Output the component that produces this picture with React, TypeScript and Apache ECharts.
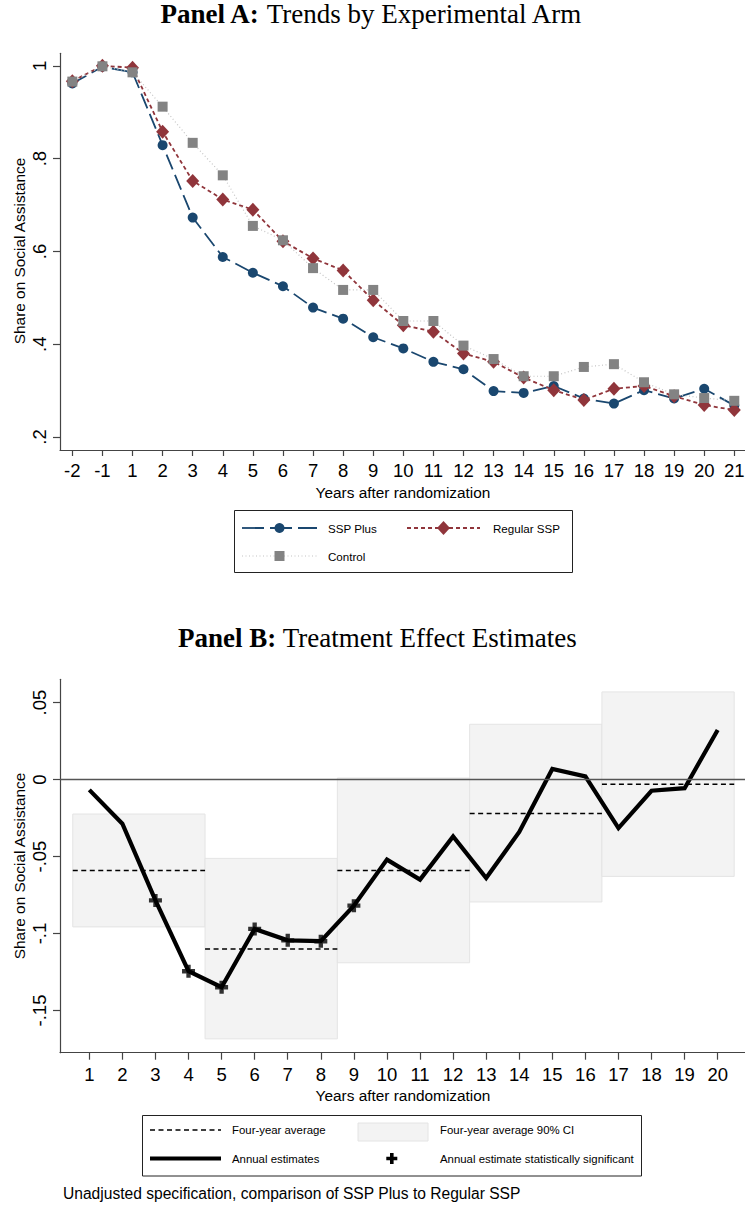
import React, { useEffect, useRef } from 'react';
import * as echarts from 'echarts';

// ---------- Panel A data ----------
const xLabelsA = ['-2', '-1', '1', '2', '3', '4', '5', '6', '7', '8', '9', '10', '11', '12', '13', '14', '15', '16', '17', '18', '19', '20', '21'];
const sspPlus = [0.962, 0.998, 0.986, 0.829, 0.673, 0.588, 0.554, 0.525, 0.479, 0.455, 0.415, 0.391, 0.362, 0.346, 0.299, 0.295, 0.310, 0.283, 0.272, 0.301, 0.283, 0.304, 0.268];
const regularSSP = [0.967, 1.0, 0.996, 0.858, 0.752, 0.712, 0.690, 0.622, 0.585, 0.559, 0.495, 0.441, 0.427, 0.380, 0.362, 0.328, 0.301, 0.280, 0.304, 0.310, 0.288, 0.269, 0.258];
const control = [0.966, 0.999, 0.986, 0.912, 0.834, 0.764, 0.655, 0.624, 0.564, 0.517, 0.517, 0.450, 0.450, 0.397, 0.368, 0.331, 0.331, 0.351, 0.357, 0.318, 0.292, 0.284, 0.278];
const yTicksA = [0.2, 0.4, 0.6, 0.8, 1];
const yTickLabelsA = ['.2', '.4', '.6', '.8', '1'];

// ---------- Panel B data ----------
const years = [1, 2, 3, 4, 5, 6, 7, 8, 9, 10, 11, 12, 13, 14, 15, 16, 17, 18, 19, 20];
const annual = [-0.0067, -0.0287, -0.0785, -0.1245, -0.1349, -0.097, -0.1044, -0.105, -0.0819, -0.052, -0.065, -0.037, -0.064, -0.034, 0.0069, 0.002, -0.0315, -0.0073, -0.0056, 0.0322];
const significantYears = [3, 4, 5, 6, 7, 8, 9];
const groupStart = [1, 5, 9, 13, 17];
const groupEnd = [4, 8, 12, 16, 20];
const groupMean = [-0.059, -0.110, -0.059, -0.022, -0.003];
const ciLow = [-0.0957, -0.1684, -0.119, -0.0795, -0.0629];
const ciHigh = [-0.0224, -0.0512, 0.001, 0.0359, 0.0569];
const yTicksB = [0.05, 0, -0.05, -0.1, -0.15];
const yTickLabelsB = ['.05', '0', '-.05', '-.1', '-.15'];

const SANS = '"Liberation Sans", Arial, sans-serif';
const SERIF = '"Liberation Serif", "Times New Roman", serif';
const NAVY = '#1a476f';
const MAROON = '#90353b';
const GRAY = '#838383';
const AXIS = '#444';

const PLUS = 'path://M4,0H8V4H12V8H8V12H4V8H0V4H4Z';

export default function App() {
  const ref = useRef<HTMLDivElement>(null);
  useEffect(() => {
    document.body.style.margin = '0';
    const chart = echarts.init(ref.current!, null, { renderer: 'svg' });

    const axisLabelBase = { color: '#000', fontFamily: SANS, fontSize: 18.5 };

    const option: any = {
      animation: false,
      backgroundColor: '#fff',
      grid: [
        { left: 60, top: 53.3, width: 685, height: 396.7, containLabel: false, outerBoundsMode: 'none' },
        { left: 60, top: 679.3, width: 685, height: 373.4, containLabel: false, outerBoundsMode: 'none' },
      ],
      xAxis: [
        {
          type: 'value', gridIndex: 0, min: -0.41, max: 22.356,
          axisLine: { show: true, onZero: false, lineStyle: { color: AXIS, width: 1.2 } },
          axisTick: { show: true, length: 6, customValues: xLabelsA.map((_, i) => i), lineStyle: { color: AXIS, width: 1.2 } },
          axisLabel: { ...axisLabelBase, margin: 11, customValues: xLabelsA.map((_, i) => i), formatter: (v: number) => xLabelsA[Math.round(v)] ?? '' },
          splitLine: { show: false },
        },
        {
          type: 'value', gridIndex: 1, min: 0.114, max: 20.826,
          axisLine: { show: true, onZero: false, lineStyle: { color: AXIS, width: 1.2 } },
          axisTick: { show: true, length: 7, customValues: years, lineStyle: { color: AXIS, width: 1.2 } },
          axisLabel: { ...axisLabelBase, margin: 12, customValues: years, formatter: (v: number) => String(v) },
          splitLine: { show: false },
        },
      ],
      yAxis: [
        {
          type: 'value', gridIndex: 0, min: 0.172, max: 1.027,
          axisLine: { show: true, onZero: false, lineStyle: { color: AXIS, width: 1.2 } },
          axisTick: { show: true, length: 7, customValues: yTicksA, lineStyle: { color: AXIS, width: 1.2 } },
          axisLabel: {
            ...axisLabelBase, margin: 11, rotate: 90, customValues: yTicksA,
            formatter: (v: number) => { const i = yTicksA.findIndex(t => Math.abs(t - v) < 1e-6); return i >= 0 ? yTickLabelsA[i] : ''; },
          },
          splitLine: { show: false },
        },
        {
          type: 'value', gridIndex: 1, min: -0.1774, max: 0.0651,
          axisLine: { show: true, onZero: false, lineStyle: { color: AXIS, width: 1.2 } },
          axisTick: { show: true, length: 7, customValues: yTicksB, lineStyle: { color: AXIS, width: 1.2 } },
          axisLabel: {
            ...axisLabelBase, margin: 11, rotate: 90, customValues: yTicksB,
            formatter: (v: number) => { const i = yTicksB.findIndex(t => Math.abs(t - v) < 1e-6); return i >= 0 ? yTickLabelsB[i] : ''; },
          },
          splitLine: { show: false },
        },
      ],
      series: [
        // Panel A
        {
          name: 'SSP Plus', type: 'line', xAxisIndex: 0, yAxisIndex: 0,
          data: sspPlus.map((v, i) => [i, v]),
          symbol: 'circle', symbolSize: 10,
          itemStyle: { color: NAVY },
          lineStyle: { color: NAVY, width: 1.8, type: [16, 6] },
          z: 3,
        },
        {
          name: 'Regular SSP', type: 'line', xAxisIndex: 0, yAxisIndex: 0,
          data: regularSSP.map((v, i) => [i, v]),
          symbol: 'diamond', symbolSize: [13, 14],
          itemStyle: { color: MAROON },
          lineStyle: { color: MAROON, width: 1.8, type: [4, 3] },
          z: 4,
        },
        {
          name: 'Control', type: 'line', xAxisIndex: 0, yAxisIndex: 0,
          data: control.map((v, i) => [i, v]),
          symbol: 'rect', symbolSize: 10,
          itemStyle: { color: GRAY },
          lineStyle: { color: '#c4c4c4', width: 1.2, type: [1, 2.5] },
          z: 5,
        },
        // Panel B: CI boxes
        {
          type: 'custom', xAxisIndex: 1, yAxisIndex: 1, z: 1,
          data: groupStart.map((s, i) => [s, groupEnd[i], ciLow[i], ciHigh[i]]),
          encode: { x: [0, 1], y: [2, 3] },
          renderItem: (params: any, api: any) => {
            const p0 = api.coord([api.value(0) - 0.5, api.value(3)]);
            const p1 = api.coord([api.value(1) + 0.5, api.value(2)]);
            return {
              type: 'rect',
              shape: { x: p0[0], y: p0[1], width: p1[0] - p0[0], height: p1[1] - p0[1] },
              style: { fill: '#f3f3f3', stroke: '#e4e4e4', lineWidth: 1 },
            };
          },
        },
        // Zero line
        {
          type: 'line', xAxisIndex: 1, yAxisIndex: 1, data: [], z: 2,
          markLine: {
            silent: true, symbol: 'none', label: { show: false },
            lineStyle: { color: '#555', width: 1.3, type: 'solid' },
            data: [{ yAxis: 0 }],
          },
        },
        // Four-year averages
        {
          type: 'custom', xAxisIndex: 1, yAxisIndex: 1, z: 3,
          data: groupStart.map((s, i) => [s, groupEnd[i], groupMean[i]]),
          encode: { x: [0, 1], y: 2 },
          renderItem: (params: any, api: any) => {
            const p0 = api.coord([api.value(0) - 0.5, api.value(2)]);
            const p1 = api.coord([api.value(1) + 0.5, api.value(2)]);
            return {
              type: 'line',
              shape: { x1: p0[0], y1: p0[1], x2: p1[0], y2: p1[1] },
              style: { stroke: '#000', lineWidth: 1.5, lineDash: [5, 3.5] },
            };
          },
        },
        // Annual estimates
        {
          type: 'line', xAxisIndex: 1, yAxisIndex: 1, z: 4,
          data: years.map((y, i) => [y, annual[i]]),
          symbol: 'none',
          lineStyle: { color: '#000', width: 4.2, join: 'miter' },
        },
        // Significant markers
        {
          type: 'scatter', xAxisIndex: 1, yAxisIndex: 1, z: 5,
          data: significantYears.map(y => [y, annual[years.indexOf(y)]]),
          symbol: PLUS, symbolSize: 13,
          itemStyle: { color: '#000' },
        },
      ],
      graphic: [
        // Titles
        {
          type: 'text', x: 371, y: 14,
          style: {
            text: '{b|Panel A:} Trends by Experimental Arm',
            font: `27px ${SERIF}`, fill: '#000', align: 'center', verticalAlign: 'middle',
            rich: { b: { fontWeight: 'bold', fontSize: 27, fontFamily: SERIF } },
          },
        },
        {
          type: 'text', x: 377.5, y: 638,
          style: {
            text: '{b|Panel B:} Treatment Effect Estimates',
            font: `27px ${SERIF}`, fill: '#000', align: 'center', verticalAlign: 'middle',
            rich: { b: { fontWeight: 'bold', fontSize: 27, fontFamily: SERIF } },
          },
        },
        // Axis titles
        {
          type: 'text', x: 19, y: 251, rotation: Math.PI / 2,
          style: { text: 'Share on Social Assistance', font: `15.4px ${SANS}`, fill: '#000', align: 'center', verticalAlign: 'middle' },
        },
        {
          type: 'text', x: 19, y: 866, rotation: Math.PI / 2,
          style: { text: 'Share on Social Assistance', font: `15.4px ${SANS}`, fill: '#000', align: 'center', verticalAlign: 'middle' },
        },
        {
          type: 'text', x: 403, y: 492,
          style: { text: 'Years after randomization', font: `15.4px ${SANS}`, fill: '#000', align: 'center', verticalAlign: 'middle' },
        },
        {
          type: 'text', x: 403, y: 1095,
          style: { text: 'Years after randomization', font: `15.4px ${SANS}`, fill: '#000', align: 'center', verticalAlign: 'middle' },
        },
        // Legend A
        { type: 'rect', shape: { x: 234.5, y: 510.5, width: 338, height: 62 }, style: { fill: '#fff', stroke: '#222', lineWidth: 1 } },
        { type: 'line', shape: { x1: 242, y1: 528, x2: 317, y2: 528 }, style: { stroke: NAVY, lineWidth: 1.8, lineDash: [22, 6] } },
        { type: 'circle', shape: { cx: 279.5, cy: 528, r: 5 }, style: { fill: NAVY } },
        { type: 'text', x: 328, y: 528, style: { text: 'SSP Plus', font: `11.6px ${SANS}`, fill: '#000', verticalAlign: 'middle' } },
        { type: 'line', shape: { x1: 407, y1: 528, x2: 480, y2: 528 }, style: { stroke: MAROON, lineWidth: 1.8, lineDash: [4, 3] } },
        { type: 'polygon', shape: { points: [[443.5, 521], [450, 528], [443.5, 535], [437, 528]] }, style: { fill: MAROON } },
        { type: 'text', x: 493, y: 528, style: { text: 'Regular SSP', font: `11.6px ${SANS}`, fill: '#000', verticalAlign: 'middle' } },
        { type: 'line', shape: { x1: 242, y1: 556, x2: 317, y2: 556 }, style: { stroke: '#c4c4c4', lineWidth: 1.2, lineDash: [1, 2.5] } },
        { type: 'rect', shape: { x: 274.5, y: 551, width: 10, height: 10 }, style: { fill: GRAY } },
        { type: 'text', x: 328, y: 556, style: { text: 'Control', font: `11.6px ${SANS}`, fill: '#000', verticalAlign: 'middle' } },
        // Legend B
        { type: 'rect', shape: { x: 142.5, y: 1115.5, width: 499, height: 60.5 }, style: { fill: '#fff', stroke: '#222', lineWidth: 1 } },
        { type: 'line', shape: { x1: 150, y1: 1130, x2: 221, y2: 1130 }, style: { stroke: '#000', lineWidth: 1.5, lineDash: [5, 3.5] } },
        { type: 'text', x: 232, y: 1130, style: { text: 'Four-year average', font: `11.4px ${SANS}`, fill: '#000', verticalAlign: 'middle' } },
        { type: 'rect', shape: { x: 358, y: 1123, width: 70, height: 18 }, style: { fill: '#f3f3f3', stroke: '#e4e4e4', lineWidth: 1 } },
        { type: 'text', x: 440, y: 1130, style: { text: 'Four-year average 90% CI', font: `11.4px ${SANS}`, fill: '#000', verticalAlign: 'middle' } },
        { type: 'line', shape: { x1: 150, y1: 1158.5, x2: 221, y2: 1158.5 }, style: { stroke: '#000', lineWidth: 4.2 } },
        { type: 'text', x: 232, y: 1158.5, style: { text: 'Annual estimates', font: `11.4px ${SANS}`, fill: '#000', verticalAlign: 'middle' } },
        {
          type: 'polygon',
          shape: { points: [[390, 1153], [393.6, 1153], [393.6, 1156.7], [397.3, 1156.7], [397.3, 1160.3], [393.6, 1160.3], [393.6, 1164], [390, 1164], [390, 1160.3], [386.3, 1160.3], [386.3, 1156.7], [390, 1156.7]] },
          style: { fill: '#000' },
        },
        { type: 'text', x: 440, y: 1158.5, style: { text: 'Annual estimate statistically significant', font: `11.4px ${SANS}`, fill: '#000', verticalAlign: 'middle' } },
        // Footnote
        { type: 'text', x: 63, y: 1193, style: { text: 'Unadjusted specification, comparison of SSP Plus to Regular SSP', font: `15.6px ${SANS}`, fill: '#000', verticalAlign: 'middle' } },
      ],
    };
    chart.setOption(option);
    return () => chart.dispose();
  }, []);
  return <div ref={ref} style={{ position: 'absolute', left: 0, top: 0, width: 745, height: 1207 }} />;
}
